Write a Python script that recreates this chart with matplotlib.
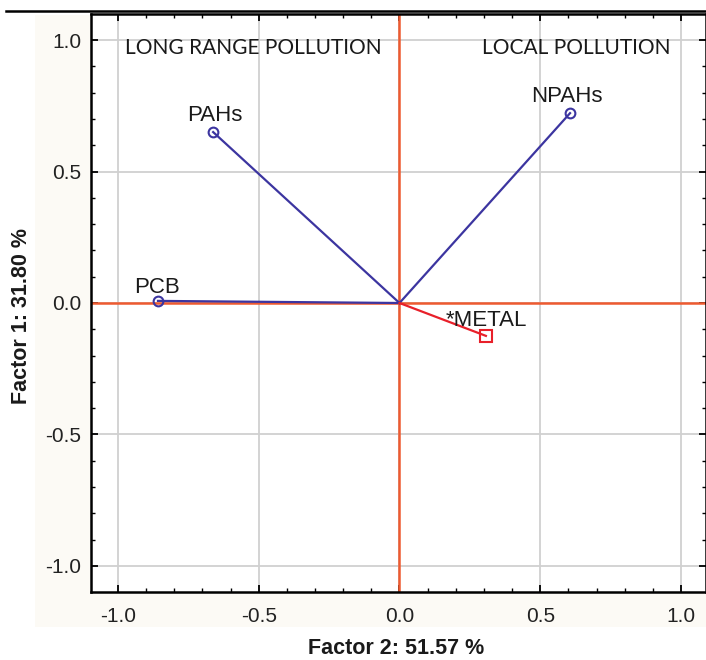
import matplotlib
matplotlib.use("Agg")
import matplotlib.pyplot as plt
from matplotlib.patches import Rectangle
from matplotlib.ticker import MultipleLocator

# Data (factor coordinates)
active_names = ["PAHs", "NPAHs", "PCB"]
active_x = [-0.662, 0.606, -0.858]
active_y = [0.650, 0.722, 0.008]
supp_names = ["*METAL"]
supp_x = [0.307]
supp_y = [-0.125]
xlabel = "Factor 2: 51.57 %"
ylabel = "Factor 1: 31.80 %"
region_labels = ["LONG RANGE POLLUTION", "LOCAL POLLUTION"]

W, H = 706, 660
fig = plt.figure(figsize=(W / 100, H / 100), dpi=100)
fig.patch.set_facecolor("white")

# beige panel behind the axes and tick labels
fig.patches.append(Rectangle((35 / W, 1 - 627 / H), (W - 35) / W, (627 - 15) / H,
                             transform=fig.transFigure, facecolor="#fcfaf5",
                             edgecolor="none", zorder=-5))
# top black rule
fig.add_artist(plt.Line2D([6 / W, 1.0], [1 - 11 / H, 1 - 11 / H],
                          transform=fig.transFigure, color="black", lw=1.8, zorder=5))

ax = fig.add_axes([91 / W, 1 - 592 / H, (W - 91) / W, (592 - 14) / H])
ax.set_zorder(1)
ax.set_facecolor("white")
ax.set_xlim(-1.096, 1.089)
ax.set_ylim(-1.099, 1.099)

ax.xaxis.set_major_locator(MultipleLocator(0.5))
ax.yaxis.set_major_locator(MultipleLocator(0.5))
ax.xaxis.set_minor_locator(MultipleLocator(0.1))
ax.yaxis.set_minor_locator(MultipleLocator(0.1))
ax.tick_params(which="both", direction="in", top=True, right=True, colors="black")
ax.tick_params(which="major", length=5, width=1.3, labelsize=15, labelcolor="#222222")
ax.tick_params(axis="x", which="major", pad=11)
ax.tick_params(axis="y", which="major", pad=7)
ax.tick_params(which="minor", length=3, width=1.0)
ax.xaxis.set_major_formatter(plt.FuncFormatter(lambda v, p: f"{v:.1f}".replace("-0.0", "0.0")))
ax.yaxis.set_major_formatter(plt.FuncFormatter(lambda v, p: f"{v:.1f}".replace("-0.0", "0.0")))
for lbl in ax.get_xticklabels() + ax.get_yticklabels():
    lbl.set_fontfamily("Liberation Sans")

ax.grid(True, which="major", color="#d0d0d0", lw=1.3)
ax.set_axisbelow(True)
for s in ax.spines.values():
    s.set_linewidth(1.8)
    s.set_color("black")

ax.axhline(0, color="#ee5a30", lw=1.8, zorder=2)
ax.axvline(0, color="#ee5a30", lw=1.8, zorder=2)

blue = "#3c35a0"
red = "#e8202a"
for n, x, y in zip(active_names, active_x, active_y):
    ax.plot([0, x], [0, y], color=blue, lw=1.6, zorder=3)
    ax.plot([x], [y], marker="o", ms=7, mfc="none", mec=blue, mew=1.5, zorder=4)
for n, x, y in zip(supp_names, supp_x, supp_y):
    ax.plot([0, x], [0, y], color=red, lw=1.6, zorder=3)
    ax.plot([x], [y], marker="s", ms=8, mfc="none", mec=red, mew=1.5, zorder=4)

lab_font = dict(fontsize=16, family="Liberation Sans", color="#1a1a1a", zorder=5)
ax.text(active_x[0] + 0.005, active_y[0] + 0.022, active_names[0], ha="center", va="bottom", **lab_font)
ax.text(active_x[1] - 0.01, active_y[1] + 0.022, active_names[1], ha="center", va="bottom", **lab_font)
ax.text(active_x[2] - 0.005, active_y[2] + 0.012, active_names[2], ha="center", va="bottom", **lab_font)
ax.text(supp_x[0] - 0.0, supp_y[0] + 0.02, supp_names[0], ha="center", va="bottom", **lab_font)

reg_font = dict(fontsize=15, family="Lato", color="#1a1a1a", va="center", ha="center")
ax.text(-0.52, 0.97, region_labels[0], **reg_font)
ax.text(0.627, 0.97, region_labels[1], **reg_font)

fig.text(396 / W, 1 - 648 / H, xlabel, ha="center", va="center", fontsize=15.5,
         fontweight="bold", family="Liberation Sans", color="#1a1a1a")
fig.text(22 / W, 1 - 316 / H, ylabel, ha="center", va="center", rotation=90, fontsize=15.5,
         fontweight="bold", family="Liberation Sans", color="#1a1a1a")

fig.savefig("out.png", dpi=100)
